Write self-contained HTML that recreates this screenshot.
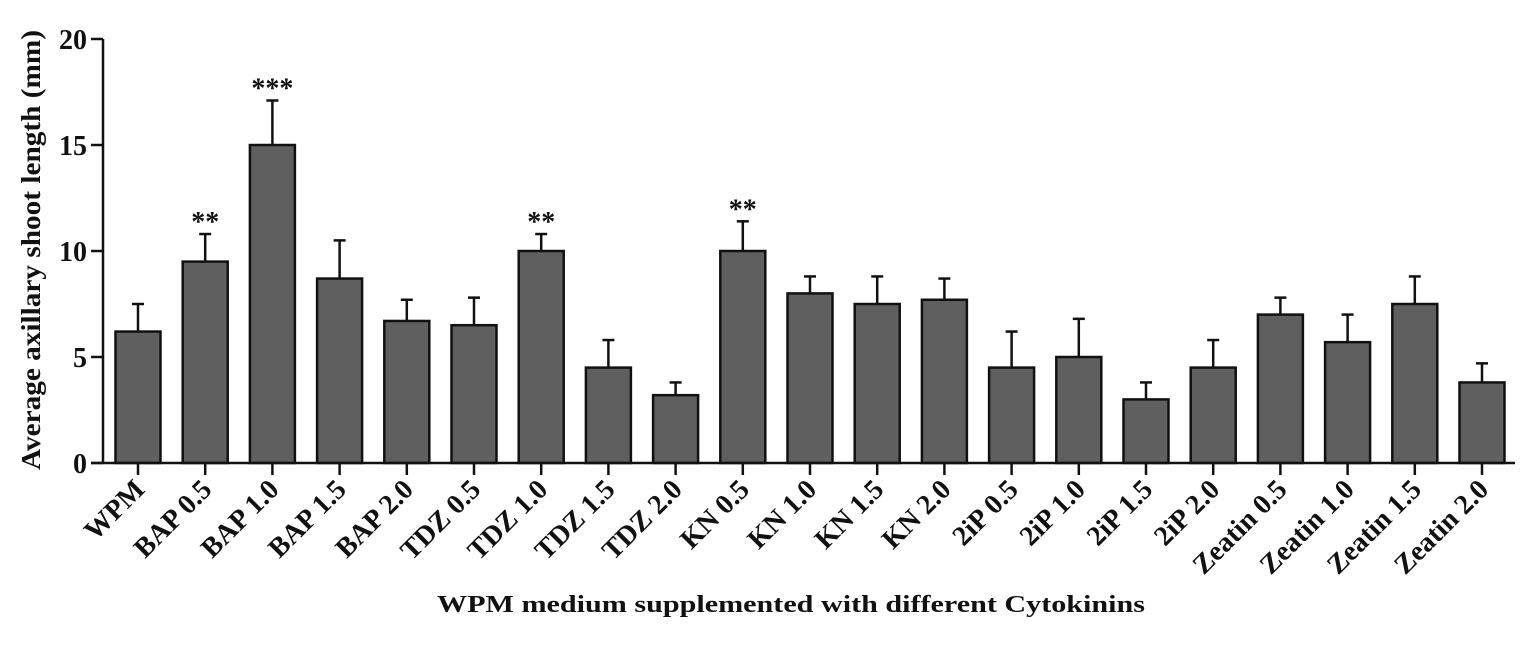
<!DOCTYPE html>
<html><head><meta charset="utf-8"><style>
body{margin:0;background:#fff}
svg text{font-family:"Liberation Serif",serif;font-weight:bold;fill:#111}
</style></head><body>
<svg id="chart" width="1535" height="664" viewBox="0 0 1535 664" xmlns="http://www.w3.org/2000/svg">
<g id="plot"></g>
<text x="791" y="612" text-anchor="middle" font-size="24" textLength="708" lengthAdjust="spacingAndGlyphs">WPM medium supplemented with different Cytokinins</text>
<text transform="translate(40,250) rotate(-90)" text-anchor="middle" font-size="27" textLength="440" lengthAdjust="spacingAndGlyphs">Average axillary shoot length  (mm)</text>
</svg>
<script>
const categories=["WPM","BAP 0.5","BAP 1.0","BAP 1.5","BAP 2.0","TDZ 0.5","TDZ 1.0","TDZ 1.5","TDZ 2.0","KN 0.5","KN 1.0","KN 1.5","KN 2.0","2iP 0.5","2iP 1.0","2iP 1.5","2iP 2.0","Zeatin 0.5","Zeatin 1.0","Zeatin 1.5","Zeatin 2.0"];
const means=[6.2,9.5,15,8.7,6.7,6.5,10,4.5,3.2,10,8,7.5,7.7,4.5,5,3,4.5,7,5.7,7.5,3.8];
const errors=[1.3,1.3,2.1,1.8,1.0,1.3,0.8,1.3,0.6,1.4,0.8,1.3,1.0,1.7,1.8,0.8,1.3,0.8,1.3,1.3,0.9];
const stars=["","**","***","","","","**","","","**","","","","","","","","","","",""];
const yTicks=[0,5,10,15,20];
const NS="http://www.w3.org/2000/svg";
const g=document.getElementById('plot');
const x0=103,x1=1515,y0=463,yTop=39;
const yS=v=>y0-(v/20)*(y0-yTop);
const xS=i=>138+i*67.2;
const bw=45;
function mk(t,a){const e=document.createElementNS(NS,t);for(const k in a)e.setAttribute(k,a[k]);g.appendChild(e);return e;}
categories.forEach((c,i)=>{
  const cx=xS(i),top=yS(means[i]),et=yS(means[i]+errors[i]);
  let e=mk('line',{x1:cx,x2:cx,y1:top,y2:et,stroke:'#111','stroke-width':2.5});
  
  
  e=mk('line',{x1:cx-6,x2:cx+6,y1:et,y2:et,stroke:'#111','stroke-width':2.5});
  
  
  e=mk('rect',{x:cx-bw/2,y:top,width:bw,height:y0-top,fill:'#5f5f5f',stroke:'#111','stroke-width':2.5});
  
  
  if(stars[i]){e=mk('text',{x:cx,y:et-3,'text-anchor':'middle','font-size':28,fill:'#444'});e.textContent=stars[i];
  
  }
  e=mk('line',{x1:cx,x2:cx,y1:y0,y2:y0+12,stroke:'#111','stroke-width':2.5});
  
  
  e=mk('text',{transform:`translate(${cx+8},${y0+28}) rotate(-45)`,'text-anchor':'end','font-size':28});e.textContent=c;
  
  
});
yTicks.forEach(v=>{
  let e=mk('line',{x1:x0-12,x2:x0,y1:yS(v),y2:yS(v),stroke:'#111','stroke-width':2.5});
  
  
  e=mk('text',{x:x0-16,y:yS(v)+10,'text-anchor':'end','font-size':28});e.textContent=v;
  
  
});
let ax=mk('line',{x1:x0,x2:x0,y1:yTop,y2:y0,stroke:'#111','stroke-width':2.5});


ax=mk('line',{x1:x0-12,x2:x1,y1:y0,y2:y0,stroke:'#111','stroke-width':2.5});


</script>
</body></html>
